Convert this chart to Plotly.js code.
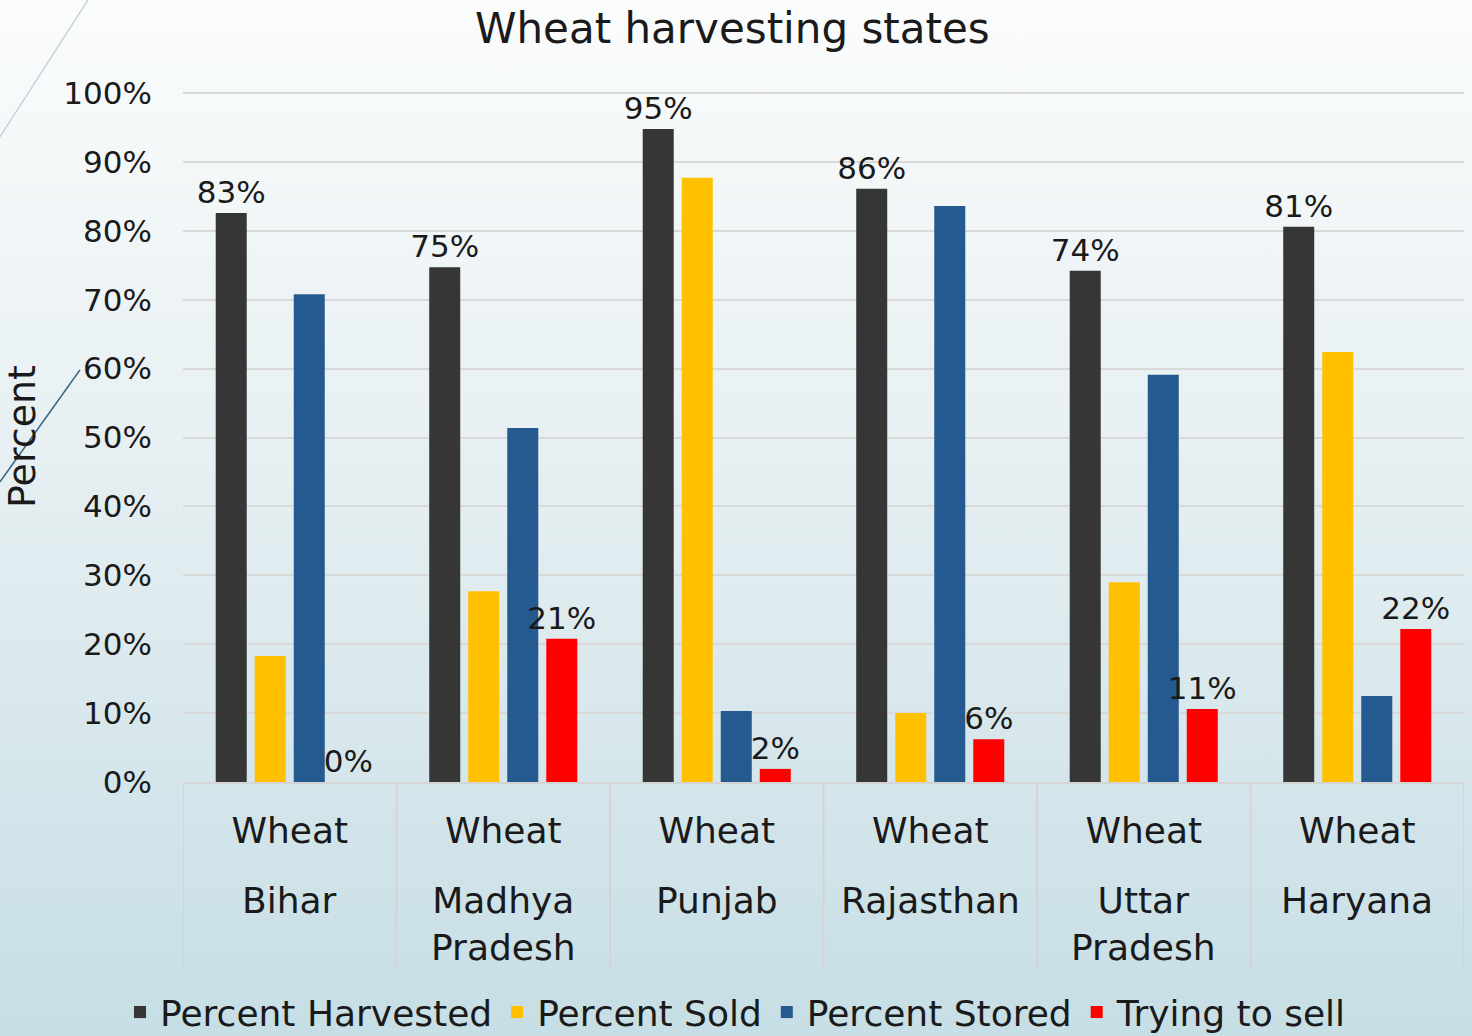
<!DOCTYPE html>
<html><head><meta charset="utf-8">
<script src="https://cdn.plot.ly/plotly-3.0.1.min.js"></script>
<style>
html,body{margin:0;padding:0;width:1472px;height:1036px;overflow:hidden;
background:linear-gradient(to bottom,#fbfcfc 0%,#e6eff2 45%,#c6dee5 100%);}
#chart{width:1472px;height:1036px;}
</style>
</head><body><div id="chart"></div>
<script>
const states = ["Bihar","Madhya<br>Pradesh","Punjab","Rajasthan","Uttar<br>Pradesh","Haryana"];
const cropRow = ["Wheat","Wheat","Wheat","Wheat","Wheat","Wheat"];
const harvested = [82.6,74.7,94.8,86.1,74.2,80.6];
const sold = [18.3,27.7,87.7,10.0,29.0,62.4];
const stored = [70.8,51.4,10.3,83.6,59.1,12.5];
const trying = [0,20.8,1.9,6.2,10.6,22.2];
const seriesNames = ["Percent Harvested","Percent Sold","Percent Stored","Trying to sell"];
const yTicks = [0,10,20,30,40,50,60,70,80,90,100];
const yTickText = ["0%","10%","20%","30%","40%","50%","60%","70%","80%","90%","100%"];

const FONT = "DejaVu Sans, sans-serif";
const TXT = "#1a1a1a";
const GRID = "#d9d9d9";

function bar(name, y, color, labels){
  const t = {type:"bar", name:name, x:states, y:y, marker:{color:color},
    hoverinfo:"skip", cliponaxis:false};
  if(labels){
    t.texttemplate = "%{y:.0f}%";
    t.textposition = "outside";
    t.constraintext = "none";
    t.textfont = {family:FONT, size:31, color:TXT};
  } else {
    t.textposition = "none";
  }
  return t;
}

const data = [
  bar(seriesNames[0], harvested, "#363636", true),
  bar(seriesNames[1], sold, "#FFC000", false),
  bar(seriesNames[2], stored, "#255A90", false),
  bar(seriesNames[3], trying, "#FF0000", true)
];

// category dividers below the axis (boundaries between the six categories)
const dividerPos = [-0.5,0.5,1.5,2.5,3.5,4.5,5.5];
const shapes = dividerPos.map(p => ({type:"line", xref:"x", yref:"paper", x0:p, x1:p, y0:0, y1:-0.27,
  line:{color:"#d4d4d4", width:2}}));
shapes.push(
  {type:"line", xref:"paper", yref:"paper", x0:(0-183)/1280, y0:(782-137)/691, x1:(88-183)/1280, y1:(782-0)/691,
    line:{color:"#c9d3da", width:1.5}},
  {type:"line", xref:"paper", yref:"paper", x0:(0-183)/1280, y0:(782-482)/691, x1:(80-183)/1280, y1:(782-370)/691,
    line:{color:"#3b6683", width:1.5}}
);

// second row of category labels (state names) under the "Wheat" row
const annotations = states.map(s => ({xref:"x", yref:"paper", x:s, y:-0.1395, yanchor:"top", xanchor:"center",
  text:s, showarrow:false, align:"center", font:{family:FONT, size:36, color:TXT}}));

const layout = {
  width:1472, height:1036,
  paper_bgcolor:"rgba(0,0,0,0)", plot_bgcolor:"rgba(0,0,0,0)",
  margin:{l:183, r:8, t:91, b:254, pad:0},
  font:{family:FONT, color:TXT},
  title:{text:"Wheat harvesting states", font:{family:FONT, size:42, color:TXT},
    x:0.4975, xref:"container", xanchor:"center", y:0.973, yref:"container", yanchor:"middle"},
  barmode:"group", bargap:0.269, bargroupgap:0.205,
  showlegend:true,
  legend:{orientation:"h", xref:"container", yref:"container", x:0.5, xanchor:"center",
    y:0.023, yanchor:"middle", font:{family:FONT, size:36, color:TXT},
    bgcolor:"rgba(0,0,0,0)", traceorder:"normal"},
  xaxis:{type:"category", categoryarray:states, categoryorder:"array", range:[-0.5,5.5],
    tickmode:"array", tickvals:states, ticktext:cropRow,
    showgrid:false, ticks:"", showline:true, linecolor:"#d4d4d4", linewidth:2, zeroline:false,
    ticklabelstandoff:16, tickfont:{family:FONT, size:36, color:TXT}},
  yaxis:{range:[0,100.3], tickmode:"array", tickvals:yTicks, ticktext:yTickText,
    showgrid:true, gridcolor:GRID, gridwidth:2, automargin:true,
    zeroline:false, showline:false, ticks:"", ticklabelstandoff:30,
    tickfont:{family:FONT, size:31, color:TXT},
    title:{text:"Percent", font:{family:FONT, size:38, color:TXT}, standoff:16}},
  shapes:shapes,
  annotations:annotations
};

Plotly.newPlot("chart", data, layout, {displayModeBar:false, staticPlot:true});
</script>
</body></html>
